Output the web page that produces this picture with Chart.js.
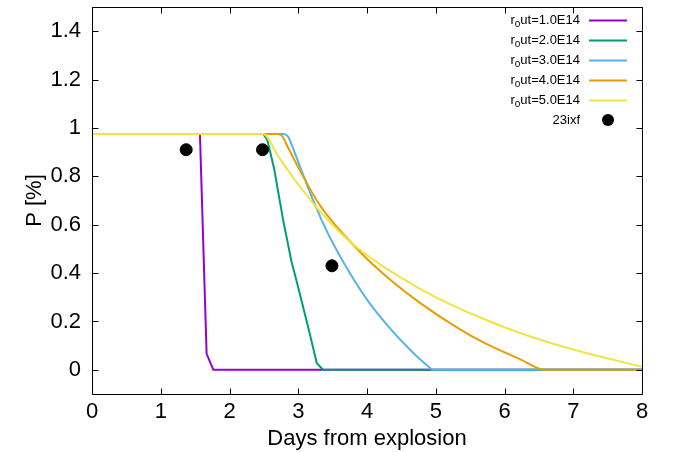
<!DOCTYPE html>
<html>
<head>
<meta charset="utf-8">
<script src="https://cdn.jsdelivr.net/npm/chart.js@4.4.1/dist/chart.umd.min.js"></script>
<style>
html,body{margin:0;padding:0;background:#fff;}
#wrap{width:676px;height:452px;}
</style>
</head>
<body>
<div id="wrap"><canvas id="c" width="676" height="452"></canvas></div>
<script>
// ---- data ----
const seriesNames = ['r_out=1.0E14','r_out=2.0E14','r_out=3.0E14','r_out=4.0E14','r_out=5.0E14'];
const seriesColors = ['#9400d3','#009e73','#56b4e9','#e69f00','#f0e442'];

const days1 = [0, 1.57, 1.667, 1.765, 8];
const pol1  = [0.975, 0.975, 0.066, 0, 0];

const days2 = [0, 2.49, 2.55, 2.65, 2.78, 2.9, 3.0, 3.15, 3.27, 3.36, 8];
const pol2  = [0.975, 0.975, 0.95, 0.83, 0.62, 0.45, 0.34, 0.17, 0.027, 0, 0];

const days3 = [0, 2.78, 2.85, 2.905, 3.0, 3.1, 3.22, 3.35, 3.51, 3.75, 4.0, 4.29, 4.63, 4.9, 4.96, 8];
const pol3  = [0.975, 0.975, 0.965, 0.93, 0.859, 0.785, 0.699, 0.613, 0.52, 0.40, 0.29, 0.186, 0.082, 0.012, 0, 0];

const days4 = [0, 2.69, 2.76, 2.85, 2.98, 3.316, 3.9, 4.36, 4.77, 5.33, 5.7, 6.225, 6.59, 8];
const pol4  = [0.975, 0.975, 0.968, 0.92, 0.848, 0.68, 0.487, 0.367, 0.277, 0.171, 0.112, 0.044, 0, 0];

const days5 = [0, 2.49, 2.7, 2.93, 3.03, 3.316, 3.6, 3.9, 4.2, 4.53, 4.77, 5.2, 5.7, 6.225, 6.71, 7.3, 8];
const pol5  = [0.975, 0.975, 0.887, 0.793, 0.755, 0.655, 0.57, 0.495, 0.434, 0.375, 0.335, 0.273, 0.21, 0.152, 0.108, 0.061, 0.013];

const obsName = '23ixf';
const obsDays = [1.37, 2.48, 3.49];
const obsPol  = [0.91, 0.91, 0.43];

const xTicks = [0,1,2,3,4,5,6,7,8];
const yTicks = [0,0.2,0.4,0.6,0.8,1,1.2,1.4];
const xTitle = 'Days from explosion';
const yTitle = 'P [%]';

// ---- build ----
const seriesDays = [days1, days2, days3, days4, days5];
const seriesPol  = [pol1, pol2, pol3, pol4, pol5];
const smoothSeries = [false, false, true, true, true];
const toPts = (xs, ys) => xs.map((x, i) => ({x: x, y: ys[i]}));

const FONT = '"Liberation Sans", Arial, sans-serif';

const datasets = seriesNames.map((name, i) => ({
  label: name,
  data: toPts(seriesDays[i], seriesPol[i]),
  showLine: true,
  borderColor: seriesColors[i],
  backgroundColor: seriesColors[i],
  borderWidth: 2,
  pointRadius: 0,
  tension: smoothSeries[i] ? 0.4 : 0,
  cubicInterpolationMode: smoothSeries[i] ? 'monotone' : 'default',
  order: 10 - i,
  isLine: true
}));
datasets.push({
  label: obsName,
  data: toPts(obsDays, obsPol),
  showLine: false,
  pointRadius: 6,
  pointBackgroundColor: '#000',
  pointBorderColor: '#000',
  backgroundColor: '#000',
  borderColor: '#000',
  order: 0,
  isLine: false
});

const framePlugin = {
  id: 'frame',
  afterDraw(chart) {
    const ctx = chart.ctx, a = chart.chartArea;
    const xs = chart.scales.x, ys = chart.scales.y;
    ctx.save();
    ctx.strokeStyle = '#000';
    ctx.lineWidth = 1;
    ctx.beginPath();
    const L = Math.round(a.left) + 0.5, R = Math.round(a.right) + 0.5;
    const T = Math.round(a.top) + 0.5, B = Math.round(a.bottom) + 0.5;
    ctx.rect(L, T, R - L, B - T);
    const tl = 6;
    xTicks.forEach(v => {
      const p = Math.round(xs.getPixelForValue(v)) + 0.5;
      ctx.moveTo(p, B); ctx.lineTo(p, B - tl);
      ctx.moveTo(p, T); ctx.lineTo(p, T + tl);
    });
    yTicks.forEach(v => {
      const p = Math.round(ys.getPixelForValue(v)) + 0.5;
      ctx.moveTo(L, p); ctx.lineTo(L + tl, p);
      ctx.moveTo(R, p); ctx.lineTo(R - tl, p);
    });
    ctx.stroke();

    // legend
    const textRight = 580, lineX0 = 589, lineX1 = 627, y0 = 20, dy = 20;
    chart.data.datasets.forEach((ds, i) => {
      const y = y0 + i * dy;
      ctx.fillStyle = '#000';
      ctx.textBaseline = 'middle';
      ctx.textAlign = 'right';
      const label = ds.label;
      const us = label.indexOf('_');
      if (us >= 0) {
        const pre = label.slice(0, us);
        const sub = label.charAt(us + 1);
        const post = label.slice(us + 2);
        ctx.font = '13px ' + FONT;
        const wPost = ctx.measureText(post).width;
        ctx.fillText(post, textRight, y);
        ctx.font = '10px ' + FONT;
        const wSub = ctx.measureText(sub).width;
        ctx.fillText(sub, textRight - wPost, y + 4);
        ctx.font = '13px ' + FONT;
        ctx.fillText(pre, textRight - wPost - wSub, y);
      } else {
        ctx.font = '13px ' + FONT;
        ctx.fillText(label, textRight, y);
      }
      if (ds.isLine) {
        ctx.strokeStyle = ds.borderColor;
        ctx.lineWidth = 2;
        ctx.beginPath();
        ctx.moveTo(lineX0, y + 0.5); ctx.lineTo(lineX1, y + 0.5);
        ctx.stroke();
      } else {
        ctx.fillStyle = '#000';
        ctx.beginPath();
        ctx.arc((lineX0 + lineX1) / 2, y, 6, 0, Math.PI * 2);
        ctx.fill();
      }
    });
    ctx.restore();
  }
};

new Chart(document.getElementById('c'), {
  type: 'scatter',
  data: { datasets: datasets },
  options: {
    responsive: false,
    animation: false,
    layout: { padding: { top: 4, right: 34, left: 0, bottom: 0 } },
    plugins: { legend: { display: false }, tooltip: { enabled: false } },
    scales: {
      x: {
        type: 'linear', min: 0, max: 8,
        afterBuildTicks: s => { s.ticks = xTicks.map(v => ({value: v})); },
        afterFit: s => { s.height = 58; s.paddingLeft = 0; s.paddingRight = 0; },
        grid: { display: false, drawTicks: false },
        border: { display: false },
        ticks: { color: '#000', font: { family: FONT, size: 22 }, padding: 5, maxRotation: 0,
                 callback: v => String(v) },
        title: { display: true, text: xTitle, color: '#000', font: { family: FONT, size: 22 }, padding: { top: 0, bottom: 0 } }
      },
      y: {
        type: 'linear', min: -0.1, max: 1.5,
        afterBuildTicks: s => { s.ticks = yTicks.map(v => ({value: v})); },
        afterFit: s => { s.width = 92; s.paddingTop = 0; s.paddingBottom = 0; },
        grid: { display: false, drawTicks: false },
        border: { display: false },
        ticks: { color: '#000', font: { family: FONT, size: 22 }, padding: 11,
                 callback: v => String(Math.round(v * 10) / 10) },
        title: { display: true, text: yTitle, color: '#000', font: { family: FONT, size: 22 }, padding: { top: 22, bottom: 0 } }
      }
    }
  },
  plugins: [framePlugin]
});
</script>
</body>
</html>
